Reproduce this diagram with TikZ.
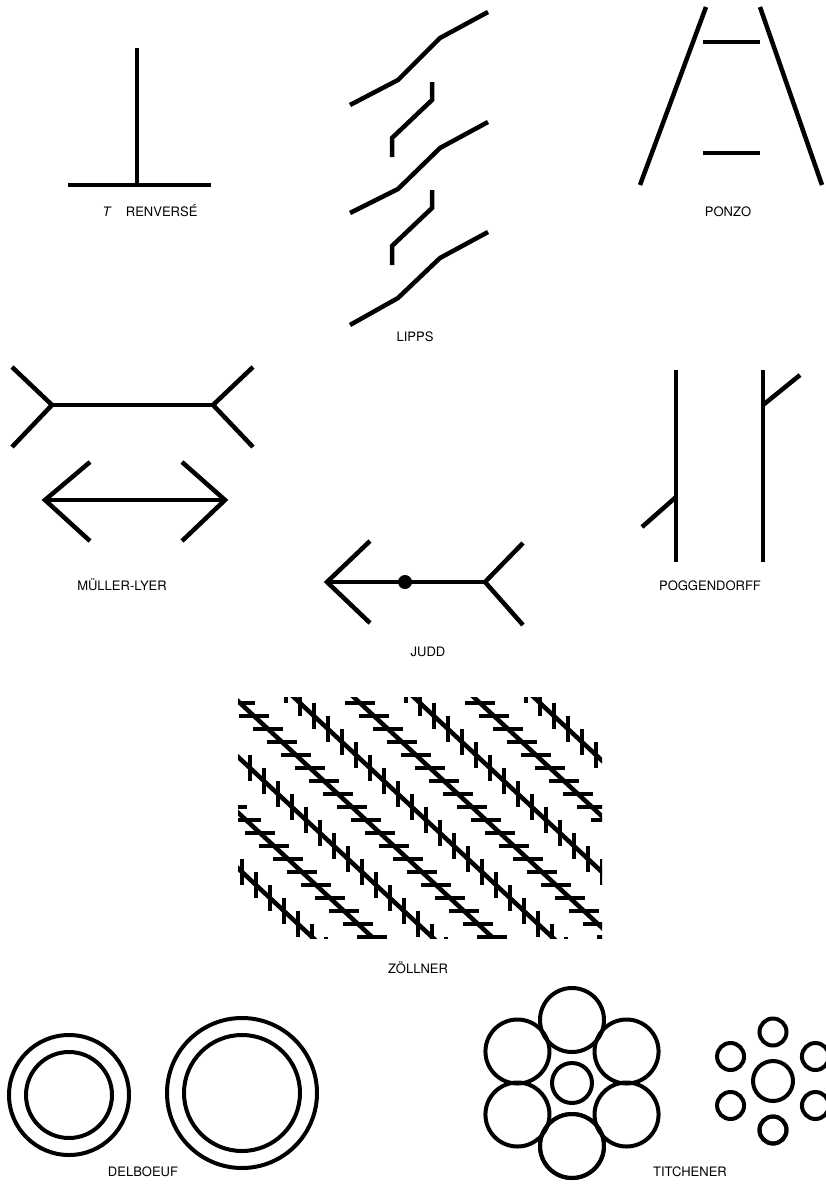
\documentclass[tikz,border=0pt]{standalone}
\usepackage{fontspec}
\setmainfont{TeX Gyre Heros}
\usepackage{tikz}

\tikzset{
  fig/.style={line width=4.5pt},
  ring/.style={line width=4pt},
  hatch/.style={line width=4pt},
  caption/.style={font=\fontsize{13}{15}\selectfont, inner sep=0pt},
}

\begin{document}
\begin{tikzpicture}[x=1pt, y=-1pt]
        \useasboundingbox (0,0) rectangle (826,1186);

        % T renverse
        \draw[fig] (137,48) -- (137,185);
        \draw[fig] (68,185) -- (211,185);
        \node[caption] (trlabel) at (150,211) {\textit{T}\hspace{1.1em}RENVERSÉ};

        % Lipps
        \draw[fig] (350,105) -- (398,80) -- (440,38) -- (488,12);
        \draw[fig] (350,213) -- (398,189) -- (440,148) -- (488,122);
        \draw[fig] (350,325) -- (398,298) -- (440,258) -- (488,232);
        \draw[fig] (432,82) -- (432,100) -- (392,138) -- (392,157);
        \draw[fig] (432,190) -- (432,208) -- (392,246) -- (392,265);
        \node[caption] (lippslabel) at (415,337) {LIPPS};

        % Ponzo
        \draw[fig] (640,185) -- (706,7);
        \draw[fig] (760,7) -- (822,185);
        \draw[fig] (703,42) -- (760,42);
        \draw[fig] (703,153) -- (760,153);
        \node[caption] (ponzolabel) at (728,212) {PONZO};

        % Mueller-Lyer
        \draw[fig] (52,405) -- (213,405);
        \draw[fig] (12,367) -- (52,405) -- (12,447);
        \draw[fig] (253,367) -- (213,405) -- (253,447);
        \draw[fig] (45,500) -- (225,500);
        \draw[fig] (90,462) -- (45,500) -- (90,541);
        \draw[fig] (182,462) -- (225,500) -- (182,541);
        \node[caption] (mllabel) at (122,585) {MÜLLER-LYER};

        % Judd
        \draw[fig] (327,582) -- (485,582);
        \draw[fig] (370,541) -- (327,582) -- (370,623);
        \draw[fig] (523,543) -- (485,582) -- (523,625);
        \fill (405,582) circle (7);
        \node[caption] (juddlabel) at (428,652) {JUDD};

        % Poggendorff
        \draw[fig] (676,370) -- (676,562);
        \draw[fig] (763,370) -- (763,562);
        \draw[fig] (642,527) -- (676,497);
        \draw[fig] (763,405) -- (800,375);
        \node[caption] (poglabel) at (710,586) {POGGENDORFF};

        % Zoellner
        \begin{scope}
            \clip (238,697) rectangle (602,938);
            \foreach \k in {-3,...,5}
                \draw[fig] ({240+60*\k-350},{703-325}) -- ({240+60*\k+350},{703+325});
            \foreach \k in {-2,0,2,4}
                \foreach \i in {-25,...,25}
                    \draw[hatch] ({240+60*\k+14*\i-15},{703+13*\i}) -- ++(30,0);
            \foreach \k in {-3,-1,1,3,5}
                \foreach \i in {-25,...,25}
                    \draw[hatch] ({240+60*\k+14*\i},{703+13*\i-13}) -- ++(0,26);
        \end{scope}
        \node[caption] (zlabel) at (418,968) {ZÖLLNER};

        % Delboeuf
        \draw[ring] (69,1095) circle (60);
        \draw[ring] (69,1095) circle (43);
        \draw[ring] (242,1093) circle (75);
        \draw[ring] (242,1093) circle (58);
        \node[caption] (dlabel) at (143,1172) {DELBOEUF};

        % Titchener
        \draw[ring] (572,1083) circle (20);
        \foreach \a in {90,150,...,450}
            \draw[ring] (572,1083) ++(\a:63) circle (32);
        \draw[ring] (773,1081) circle (20);
        \foreach \a in {90,150,...,450}
            \draw[ring] (773,1081) ++(\a:49) circle (13.5);
        \node[caption] (tlabel) at (690,1172) {TITCHENER};

    \end{tikzpicture}
\end{document}
